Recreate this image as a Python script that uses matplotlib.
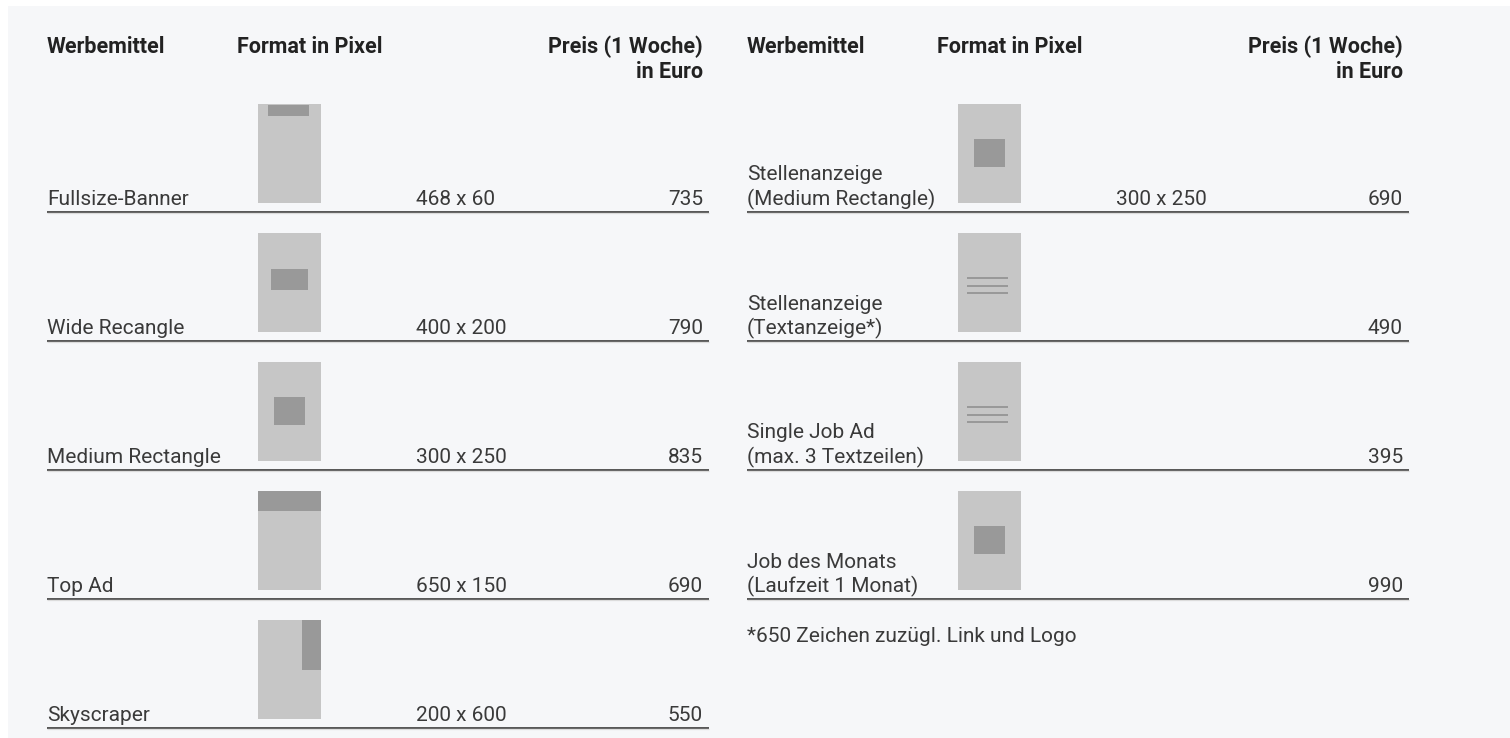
import matplotlib

matplotlib.use("Agg")
import matplotlib.pyplot as plt
from matplotlib.patches import Rectangle

W, H, DPI = 1510, 738, 100

HEADERS = ["Werbemittel", "Format in Pixel", "Preis (1 Woche)\nin Euro"]

LEFT_NAMES = ["Fullsize-Banner", "Wide Recangle", "Medium Rectangle", "Top Ad", "Skyscraper"]
LEFT_FORMATS = ["468 x 60", "400 x 200", "300 x 250", "650 x 150", "200 x 600"]
LEFT_PRICES = [735, 790, 835, 690, 550]
LEFT_ICONS = ["banner", "wide", "medium", "top", "sky"]

RIGHT_NAMES = [
    "Stellenanzeige\n(Medium Rectangle)",
    "Stellenanzeige\n(Textanzeige*)",
    "Single Job Ad\n(max. 3 Textzeilen)",
    "Job des Monats\n(Laufzeit 1 Monat)",
]
RIGHT_FORMATS = ["300 x 250", "", "", ""]
RIGHT_PRICES = [690, 490, 395, 990]
RIGHT_ICONS = ["medium", "text", "text", "medium"]

FOOTNOTE = "*650 Zeichen zuzügl. Link und Logo"

# layout (pixels)
PANEL = "#f6f7f9"
THUMB_LIGHT = "#c6c6c6"
THUMB_DARK = "#999999"
TEXT = "#3a3a3a"
HEAD = "#222222"
FS = 15.5
BODY_FS = 15.0
LINE_GAP = 24.5
ROW0_LINE = 211.5
ROW_PITCH = 129
THUMB_W, THUMB_H = 63, 99

# inner shapes of each icon, in thumb-local pixels (x, y, w, h)
ICON_SHAPES = {
    "banner": [(10, 1, 41, 11)],
    "wide": [(13, 36, 37, 21)],
    "medium": [(16, 35, 31, 28)],
    "top": [(0, 0, 63, 20)],
    "sky": [(44, 0, 19, 50)],
    "text": [(9, 44, 41, 2.4), (9, 51.5, 41, 2.4), (9, 59, 41, 2.4)],
}

plt.rcParams["font.family"] = ["Roboto", "DejaVu Sans"]

fig = plt.figure(figsize=(W / DPI, H / DPI), dpi=DPI, facecolor="white")
ax = fig.add_axes([0, 0, 1, 1])
ax.set_xlim(0, W)
ax.set_ylim(H, 0)
ax.axis("off")

ax.add_patch(Rectangle((8, 6), W - 8, H - 6, facecolor=PANEL, edgecolor="none"))


def draw_icon(x0, y0, kind):
    ax.add_patch(Rectangle((x0, y0), THUMB_W, THUMB_H, facecolor=THUMB_LIGHT, edgecolor="none"))
    for dx, dy, w, h in ICON_SHAPES[kind]:
        ax.add_patch(Rectangle((x0 + dx, y0 + dy), w, h, facecolor=THUMB_DARK, edgecolor="none"))


def body_text(x, y, s, **kw):
    ax.text(x, y, s, fontsize=BODY_FS, fontweight="normal", color=TEXT, va="baseline", **kw)


def draw_table(x0, names, formats, prices, icons):
    ax.text(x0, 53, HEADERS[0], fontsize=FS, fontweight="bold", color=HEAD, va="baseline")
    ax.text(x0 + 190, 53, HEADERS[1], fontsize=FS, fontweight="bold", color=HEAD, va="baseline")
    for k, part in enumerate(HEADERS[2].split("\n")):
        ax.text(x0 + 656, 53 + k * LINE_GAP, part, fontsize=FS, fontweight="bold",
                color=HEAD, va="baseline", ha="right")

    for i, (name, fmt, price, icon) in enumerate(zip(names, formats, prices, icons)):
        line_y = ROW0_LINE + i * ROW_PITCH
        base = line_y - 6.5
        draw_icon(x0 + 211, line_y - 107.5, icon)
        parts = name.split("\n")
        for k, part in enumerate(parts):
            body_text(x0, base - (len(parts) - 1 - k) * LINE_GAP, part)
        if fmt:
            body_text(x0 + 369, base, fmt)
        body_text(x0 + 656, base, str(price), ha="right")
        ax.plot([x0, x0 + 662], [line_y, line_y], color="#3a3a3a", lw=1.2, solid_capstyle="butt")
        ax.plot([x0, x0 + 662], [line_y + 1.6, line_y + 1.6], color="#dcdcdc", lw=0.9,
                solid_capstyle="butt")


draw_table(47, LEFT_NAMES, LEFT_FORMATS, LEFT_PRICES, LEFT_ICONS)
draw_table(747, RIGHT_NAMES, RIGHT_FORMATS, RIGHT_PRICES, RIGHT_ICONS)

body_text(747, 642, FOOTNOTE)

fig.savefig("out.png", dpi=DPI, facecolor=fig.get_facecolor())
